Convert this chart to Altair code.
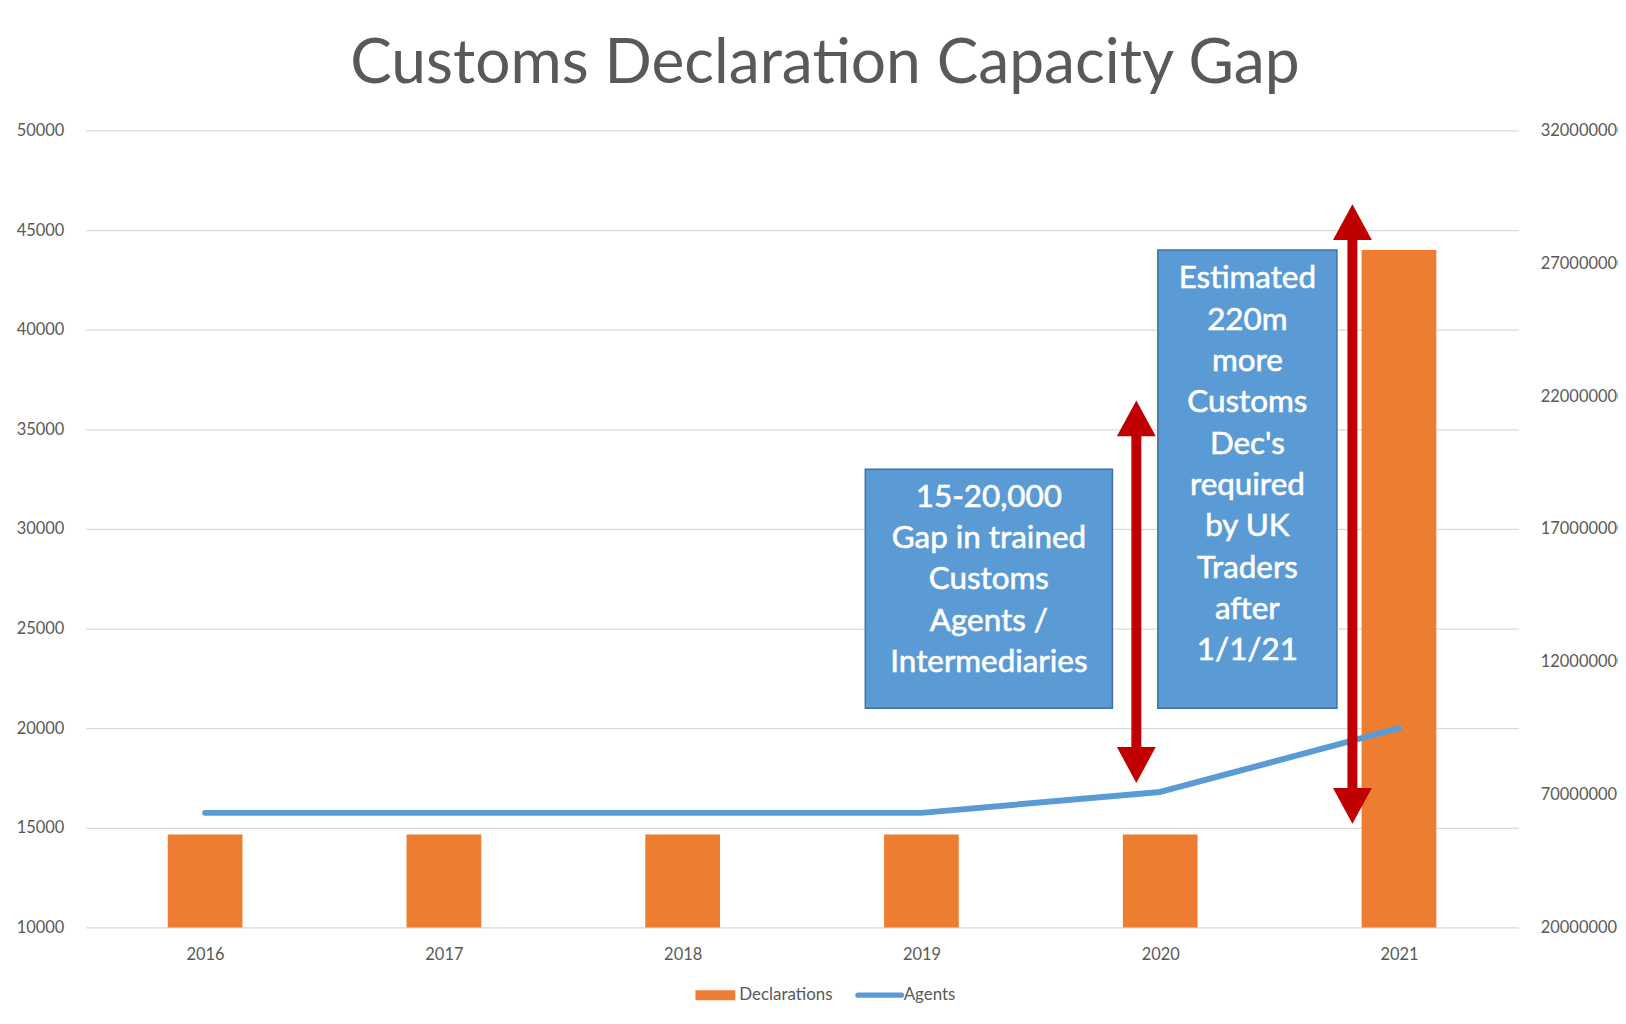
import altair as alt
import pandas as pd

# ---- data ----
years = [2016, 2017, 2018, 2019, 2020, 2021]
declarations = [55000000, 55000000, 55000000, 55000000, 55000000, 275000000]
agents = [15750, 15750, 15750, 15750, 16800, 20000]

legend_series = ["Declarations", "Agents"]

box_x1 = [2018.765, 2019.99]
box_x2 = [2019.80, 2020.74]
box_y1 = [21000, 21000]
box_y2 = [33000, 44000]
box_first_line_y = [31560, 42530]
box_lines = [
    ["15-20,000", "Gap in trained", "Customs", "Agents /", "Intermediaries"],
    ["Estimated", "220m", "more", "Customs", "Dec's", "required", "by UK",
     "Traders", "after", "1/1/21"],
]

arrow_x = [2019.90, 2020.805]
arrow_top = [36450, 46300]
arrow_bottom = [17250, 15200]

# ---- styling ----
FONT = "Lato"
GREY = "#595959"
ORANGE = "#ED7D31"
BLUE = "#5B9BD5"
RED = "#C00000"

left_domain = [10000, 50000]
left_ticks = list(range(10000, 50001, 5000))
right_domain = [20000000, 320000000]
right_ticks = list(range(20000000, 320000001, 50000000))
x_domain = [2015.5, 2021.5]

df = pd.DataFrame({"year": years, "declarations": declarations, "agents": agents})

x_axis = alt.Axis(values=years, format="d", grid=False, ticks=False, domain=False,
                  labelPadding=19, labelFontSize=16.5, labelColor=GREY, labelFont=FONT,
                  title=None)
left_axis = alt.Axis(orient="left", values=left_ticks, format="d", grid=True,
                     gridColor="#D9D9D9", gridWidth=1.3, ticks=False, domain=False,
                     labelPadding=22, labelFontSize=16.5, labelColor=GREY,
                     labelFont=FONT, title=None)
right_axis = alt.Axis(orient="right", values=right_ticks, format="d", grid=False,
                      ticks=False, domain=False, labelPadding=22, labelFontSize=16.5,
                      labelColor=GREY, labelFont=FONT, title=None)

def xq(field):
    return alt.X(field, scale=alt.Scale(domain=x_domain, nice=False, zero=False, padding=0),
                 axis=x_axis)

def yl(field):
    return alt.Y(field, scale=alt.Scale(domain=left_domain, nice=False, zero=False),
                 axis=left_axis)

bars = alt.Chart(df).mark_bar(size=75, color=ORANGE, clip=True).encode(
    x=xq("year:Q"),
    y=alt.Y("declarations:Q",
            scale=alt.Scale(domain=right_domain, nice=False, zero=False),
            axis=right_axis),
)

line = alt.Chart(df).mark_line(color=BLUE, strokeWidth=6, strokeCap="round",
                               strokeJoin="round").encode(
    x=xq("year:Q"), y=yl("agents:Q"))

boxes_df = pd.DataFrame({"x1": box_x1, "x2": box_x2, "y1": box_y1, "y2": box_y2})
boxes = alt.Chart(boxes_df).mark_rect(fill=BLUE, stroke="#41719C", strokeWidth=1.5).encode(
    x=xq("x1:Q"), x2="x2:Q", y=yl("y1:Q"), y2="y2:Q"
)

texts = []
for i, lines in enumerate(box_lines):
    tdf = pd.DataFrame({"x": [(box_x1[i] + box_x2[i]) / 2], "y": [box_first_line_y[i]]})
    texts.append(
        alt.Chart(tdf).mark_text(text=lines, font=FONT, fontSize=31.5, color="white",
                                 stroke="white", strokeWidth=0.6,
                                 lineHeight=41.5, align="center", baseline="middle"
                                 ).encode(x=xq("x:Q"), y=yl("y:Q"))
    )

arr_df = pd.DataFrame({"x": arrow_x, "top": arrow_top, "bottom": arrow_bottom})
shafts = alt.Chart(arr_df).transform_calculate(
    t="datum.top - 1700", b="datum.bottom + 1700"
).mark_rule(color=RED, strokeWidth=10).encode(x=xq("x:Q"), y=yl("t:Q"), y2="b:Q")

heads_up = alt.Chart(arr_df).mark_point(
    shape="M0,0L1,1.85L-1,1.85Z", filled=True, size=1521, color=RED, opacity=1,
    strokeWidth=0).encode(x=xq("x:Q"), y=yl("top:Q"))
heads_down = alt.Chart(arr_df).mark_point(
    shape="M0,0L1,-1.85L-1,-1.85Z", filled=True, size=1521, color=RED, opacity=1,
    strokeWidth=0).encode(x=xq("x:Q"), y=yl("bottom:Q"))

leg_df = pd.DataFrame({"series": legend_series, "x": [2016, 2016], "y": [0, 0]})
leg_props = dict(title=None, orient="none", legendX=612, legendY=848, direction="horizontal",
                 symbolSize=1600, symbolStrokeWidth=0, labelFontSize=17, labelColor=GREY,
                 labelFont=FONT, columnPadding=22, labelOffset=4)
legend_pts = alt.Chart(leg_df).mark_point(filled=True, clip=True, opacity=1).encode(
    x=xq("x:Q"), y=yl("y:Q"),
    color=alt.Color("series:N", scale=alt.Scale(domain=legend_series, range=[ORANGE, BLUE]),
                    legend=alt.Legend(**leg_props)),
    shape=alt.Shape("series:N", scale=alt.Scale(
        domain=legend_series,
        range=["M-1,-0.25H1V0.25H-1Z",
               "M-1.1,-0.13H1.1A0.13,0.13 0 0 1 1.1,0.13H-1.1A0.13,0.13 0 0 1 -1.1,-0.13Z"]),
        legend=alt.Legend(**leg_props)),
)

inner = alt.layer(line, boxes, *texts, shafts, heads_up, heads_down, legend_pts)

chart = alt.layer(bars, inner).resolve_scale(y="independent").properties(
    width=1438, height=800,
    autosize=alt.AutoSizeParams(type="none"),
    padding={"left": 78, "top": 121, "right": 100, "bottom": 80},
    title=alt.Title("Customs Declaration Capacity Gap", fontSize=62.5, font=FONT,
                    color=GREY, fontWeight="normal", anchor="middle", offset=26, dx=23),
).configure_view(stroke=None)

chart.save("out.html", embed_options={"renderer": "svg", "actions": False})
